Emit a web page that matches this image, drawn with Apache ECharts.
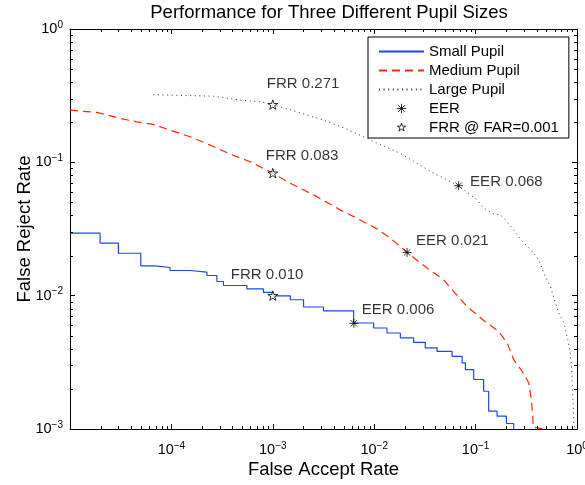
<!DOCTYPE html>
<html><head><meta charset="utf-8">
<script src="https://cdn.jsdelivr.net/npm/echarts@6/dist/echarts.min.js"></script>
<style>html,body{margin:0;padding:0;background:#fff}#c{width:585px;height:485px}</style>
</head><body><div id="c"></div>
<script>
// ---------------- data ----------------
const titleText = 'Performance for Three Different Pupil Sizes';
const xName = 'False Accept Rate';
const yName = 'False Reject Rate';
const seriesNames = ['Small Pupil', 'Medium Pupil', 'Large Pupil', 'EER', 'FRR @ FAR=0.001'];

const smallFAR = [1e-5, 1.98e-5, 3.0e-5, 4.99e-5, 6.9e-5, 9.7e-5, 1.53e-4, 2.24e-4, 2.81e-4, 3.26e-4, 5.55e-4, 8.09e-4, 1.0e-3, 1.49e-3, 2.01e-3, 3.16e-3, 6.27e-3, 9.87e-3, 0.01337, 0.01811, 0.02449, 0.0319, 0.0417, 0.0586, 0.0736, 0.0793, 0.0958, 0.120, 0.1346, 0.163, 0.2014, 0.2375];
const smallFRR = [0.0294, 0.0248, 0.0208, 0.01675, 0.01626, 0.01545, 0.01502, 0.01417, 0.01277, 0.01192, 0.01126, 0.01057, 0.00998, 0.00932, 0.00822, 0.0077, 0.00624, 0.00572, 0.00525, 0.00482, 0.00447, 0.00406, 0.00382, 0.00351, 0.00313, 0.00279, 0.00235, 0.00192, 0.00136, 0.001247, 0.0011, 0.001];

const medFAR = [1e-5, 1.84e-5, 3.12e-5, 4.55e-5, 6.64e-5, 9.7e-5, 1.53e-4, 2.41e-4, 3.80e-4, 5.98e-4, 1e-3, 1.486e-3, 2.72e-3, 4.62e-3, 6.76e-3, 0.01066, 0.01443, 0.0211, 0.0332, 0.0484, 0.0608, 0.0824, 0.120, 0.169, 0.2047, 0.2377, 0.2877, 0.334, 0.353, 0.3664, 0.370, 0.47];
const medFRR = [0.246, 0.2367, 0.2135, 0.2014, 0.1925, 0.1746, 0.1555, 0.1347, 0.1153, 0.1010, 0.0830, 0.0697, 0.0553, 0.0440, 0.0381, 0.0317, 0.0270, 0.0211, 0.0161, 0.01316, 0.01075, 0.0083, 0.00652, 0.0054, 0.00442, 0.00331, 0.00271, 0.00222, 0.00171, 0.001247, 0.001035, 0.001];

const largeFAR = [6.64e-5, 2.6e-4, 4.77e-4, 7.51e-4, 1e-3, 1.73e-3, 3.16e-3, 5.19e-3, 9.16e-3, 0.0181, 0.0386, 0.068, 0.1035, 0.1202, 0.151, 0.1757, 0.1968, 0.2375, 0.2767, 0.3475, 0.4198, 0.470, 0.547, 0.5998, 0.661, 0.741, 0.811, 0.849, 0.882, 0.897, 0.917, 0.930, 0.955];
const largeFRR = [0.3218, 0.3134, 0.2926, 0.2842, 0.271, 0.2393, 0.2074, 0.1797, 0.1469, 0.1168, 0.0828, 0.0668, 0.0522, 0.0453, 0.0410, 0.0403, 0.0370, 0.0311, 0.0265, 0.0221, 0.0186, 0.01476, 0.01172, 0.00931, 0.0074, 0.00624, 0.00468, 0.00394, 0.00295, 0.00222, 0.00157, 0.00111, 0.001];

const eerFAR = [0.0063, 0.0211, 0.068];
const eerFRR = [0.0062, 0.0211, 0.0668];
const eerLabels = ['EER 0.006', 'EER 0.021', 'EER 0.068'];
const frrFAR = [0.001, 0.001, 0.001];
const frrFRR = [0.0100, 0.0830, 0.271];
const frrLabels = ['FRR 0.010', 'FRR 0.083', 'FRR 0.271'];

const xMin = 1e-5, xMax = 1, yMin = 1e-3, yMax = 1;
const xDecades = [-5, -4, -3, -2, -1];
const yDecades = [-3, -2, -1];
const minorMult = [2, 3, 4, 5, 6, 7, 8, 9];

// ---------------- styles ----------------
const FONT = '"Liberation Sans", Arial, Helvetica, sans-serif';
const eerOffsets = [[8, -13], [9, -11.5], [11.5, -4]];
const frrOffsets = [[-42, -21], [-7, -17.5], [-6, -21]];
const STAR = 'path://M0,-1L0.2245,-0.309L0.951,-0.309L0.3633,0.118L0.5878,0.809L0,0.382L-0.5878,0.809L-0.3633,0.118L-0.951,-0.309L-0.2245,-0.309Z';
const AST = 'path://M0,-1L0,1M-1,0L1,0M-0.72,-0.72L0.72,0.72M-0.72,0.72L0.72,-0.72';
const STAR_LEG = 'path://M-1.6,-1.6M1.6,1.6M0,-1L0.2245,-0.309L0.951,-0.309L0.3633,0.118L0.5878,0.809L0,0.382L-0.5878,0.809L-0.3633,0.118L-0.951,-0.309L-0.2245,-0.309Z';
const AST_LEG = 'path://M-1.5,-1.5M1.5,1.5M0,-1L0,1M-1,0L1,0M-0.72,-0.72L0.72,0.72M-0.72,0.72L0.72,-0.72';

const zip = (a, b) => a.map((v, i) => [v, b[i]]);

function expLabel(v) {
  const e = Math.round(Math.log10(v));
  const s = e < 0 ? '\u2212' + (-e) : String(e);
  return '{b|10}{s|' + s + '}';
}
const richTick = {
  b: {fontSize: 14.5, color: '#000', fontFamily: FONT},
  s: {fontSize: 10, color: '#000', fontFamily: FONT, padding: [0, 0, 8, 0]}
};

const minorX = [];
xDecades.forEach(d => minorMult.forEach(m => minorX.push(m * Math.pow(10, d))));
const minorY = [];
yDecades.forEach(d => minorMult.forEach(m => minorY.push(m * Math.pow(10, d))));

function minorSeries(vals, dim) {
  return {
    type: 'custom', silent: true, z: 6, clip: false,
    data: vals.map(v => dim === 'x' ? [v, 0.01] : [1e-4, v]),
    renderItem: function (params, api) {
      const cs = params.coordSys;
      const L = 3;
      const st = {stroke: '#000', lineWidth: 1};
      if (dim === 'x') {
        const x = Math.round(api.coord([api.value(0), 0.01])[0]) + 0.5;
        return {type: 'group', children: [
          {type: 'line', shape: {x1: x, y1: cs.y + cs.height, x2: x, y2: cs.y + cs.height - L}, style: st},
          {type: 'line', shape: {x1: x, y1: cs.y, x2: x, y2: cs.y + L}, style: st}
        ]};
      } else {
        const y = Math.round(api.coord([1e-4, api.value(1)])[1]) + 0.5;
        return {type: 'group', children: [
          {type: 'line', shape: {x1: cs.x, y1: y, x2: cs.x + L, y2: y}, style: st},
          {type: 'line', shape: {x1: cs.x + cs.width, y1: y, x2: cs.x + cs.width - L, y2: y}, style: st}
        ]};
      }
    }
  };
}

const axisCommon = {
  type: 'log', logBase: 10,
  splitLine: {show: false},
  axisLine: {show: true, onZero: false, lineStyle: {color: '#000', width: 1}},
  axisTick: {show: true, inside: true, length: 5, lineStyle: {color: '#000', width: 1}},
  minorTick: {show: false},
  nameMoveOverlap: false
};

const chart = echarts.init(document.getElementById('c'), null, {renderer: 'canvas'});
chart.setOption({
  animation: false,
  backgroundColor: '#fff',
  title: {
    text: titleText, left: 324, top: -2, textAlign: 'center',
    textStyle: {fontSize: 18.5, fontWeight: 'normal', color: '#000', fontFamily: FONT}
  },
  grid: {left: 70, right: 8, top: 29, bottom: 56, containLabel: false, outerBoundsMode: 'none'},
  xAxis: [
    Object.assign({}, axisCommon, {
      position: 'bottom', min: xMin, max: xMax,
      name: xName, nameLocation: 'middle', nameGap: 31,
      nameTextStyle: {fontSize: 18.5, color: '#000', fontFamily: FONT},
      axisLabel: {show: true, margin: 12, showMinLabel: false, formatter: expLabel, rich: richTick}
    }),
    Object.assign({}, axisCommon, {
      position: 'top', min: xMin, max: xMax, axisLabel: {show: false}
    })
  ],
  yAxis: [
    Object.assign({}, axisCommon, {
      position: 'left', min: yMin, max: yMax,
      name: yName, nameLocation: 'middle', nameGap: 36,
      nameTextStyle: {fontSize: 18.5, color: '#000', fontFamily: FONT},
      axisLabel: {show: true, margin: 7, formatter: expLabel, rich: richTick}
    }),
    Object.assign({}, axisCommon, {
      position: 'right', min: yMin, max: yMax, axisLabel: {show: false}
    })
  ],
  legend: {
    orient: 'vertical', left: 368, top: 37,
    itemWidth: 45, itemHeight: 14, itemGap: 0,
    padding: [5, 10, 1, 10],
    backgroundColor: '#fff', borderColor: '#000', borderWidth: 1, borderRadius: 0,
    selectedMode: false,
    textStyle: {fontSize: 15, lineHeight: 19, color: '#000', fontFamily: FONT},
    data: [
      {name: seriesNames[0], itemStyle: {opacity: 0}},
      {name: seriesNames[1], itemStyle: {opacity: 0}},
      {name: seriesNames[2], itemStyle: {opacity: 0}},
      {name: seriesNames[3], icon: AST_LEG, itemStyle: {color: 'rgba(0,0,0,0)', borderColor: '#000', borderWidth: 1}},
      {name: seriesNames[4], icon: STAR_LEG, itemStyle: {color: '#fff', borderColor: '#000', borderWidth: 1}}
    ]
  },
  series: [
    {
      name: seriesNames[0], type: 'line', step: 'end', showSymbol: false, symbol: 'none',
      data: zip(smallFAR, smallFRR), z: 3,
      lineStyle: {color: '#1f45f0', width: 1.2, type: 'solid'}, itemStyle: {color: '#1f45f0'}
    },
    {
      name: seriesNames[1], type: 'line', showSymbol: false, symbol: 'none',
      data: zip(medFAR, medFRR), z: 3,
      lineStyle: {color: '#ff2a00', width: 1.2, type: [8, 5]}, itemStyle: {color: '#ff2a00'}
    },
    {
      name: seriesNames[2], type: 'line', showSymbol: false, symbol: 'none',
      data: zip(largeFAR, largeFRR), z: 3,
      lineStyle: {color: '#333', width: 1, type: [1, 3.6]}, itemStyle: {color: '#333'}
    },
    {
      name: seriesNames[3], type: 'scatter', symbol: AST, symbolSize: 9, symbolKeepAspect: true, z: 8,
      itemStyle: {color: 'none', borderColor: '#000', borderWidth: 1},
      data: eerFAR.map((x, i) => ({
        value: [x, eerFRR[i]],
        label: {show: true, formatter: eerLabels[i], position: 'inside', align: 'left', verticalAlign: 'middle',
          offset: eerOffsets[i], fontSize: 15, color: '#000', fontFamily: FONT}
      }))
    },
    {
      name: seriesNames[4], type: 'scatter', symbol: STAR, symbolSize: 10, symbolKeepAspect: true, z: 8,
      itemStyle: {color: '#fff', borderColor: '#000', borderWidth: 1},
      data: frrFAR.map((x, i) => ({
        value: [x, frrFRR[i]],
        label: {show: true, formatter: frrLabels[i], position: 'inside', align: 'left', verticalAlign: 'middle',
          offset: frrOffsets[i], fontSize: 15, color: '#000', fontFamily: FONT}
      }))
    },
    minorSeries(minorX, 'x'),
    minorSeries(minorY, 'y')
  ]
});
</script>
</body></html>
